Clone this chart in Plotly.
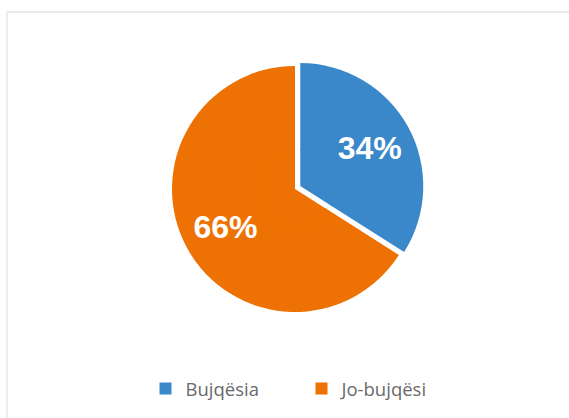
import plotly.graph_objects as go

labels = ["Bujqësia", "Jo-bujqësi"]
values = [34, 66]
colors = ["#3A87C9", "#EE7203"]

W, H = 569, 418
pull_px = 6.0
cx, cy, r = 295, 189, 123
hole = 0.29

def domain(rad, pull):
    half = rad * (1 + pull)
    return dict(x=[(cx - half) / W, (cx + half) / W],
                y=[(H - cy - half) / H, (H - cy + half) / H])

outer_pull = pull_px / r
r_in = r * hole + 1.5
inner_pull = pull_px / r_in

fig = go.Figure()
fig.add_trace(go.Pie(
    labels=labels, values=values, sort=False, direction="clockwise", rotation=0,
    pull=[outer_pull, 0], hole=hole,
    marker=dict(colors=colors, line=dict(width=0)),
    texttemplate="%{percent:.0%}", textposition="inside", insidetextorientation="horizontal",
    textfont=dict(family="Liberation Sans, Arial", size=32, color="white", weight="bold"),
    domain=domain(r, outer_pull),
    hoverinfo="label+percent",
))
fig.add_trace(go.Pie(
    labels=labels, values=values, sort=False, direction="clockwise", rotation=0,
    pull=[inner_pull, 0],
    marker=dict(colors=colors, line=dict(width=0)),
    textinfo="none", showlegend=False, hoverinfo="skip",
    domain=domain(r_in, inner_pull),
))

fig.update_layout(
    width=W, height=H,
    margin=dict(l=0, r=0, t=0, b=0),
    paper_bgcolor="white",
    showlegend=True,
    legend=dict(orientation="h", x=301.5 / W, xanchor="center", y=(H - 389) / H, yanchor="middle",
                font=dict(family="Open Sans, sans-serif", size=18.5, color="#6A6A6A"),
                entrywidth=111, entrywidthmode="pixels"),
    shapes=[
        dict(type="line", xref="paper", yref="paper", x0=7 / W, x1=1.02, y0=1 - 12 / H, y1=1 - 12 / H,
             line=dict(color="#D9D9D9", width=1)),
        dict(type="line", xref="paper", yref="paper", x0=7 / W, x1=7 / W, y0=-0.02, y1=1 - 12 / H,
             line=dict(color="#D9D9D9", width=1)),
    ],
)

fig.write_html("out.html", config={"displayModeBar": False},
               post_script="document.body.style.margin='0';")
